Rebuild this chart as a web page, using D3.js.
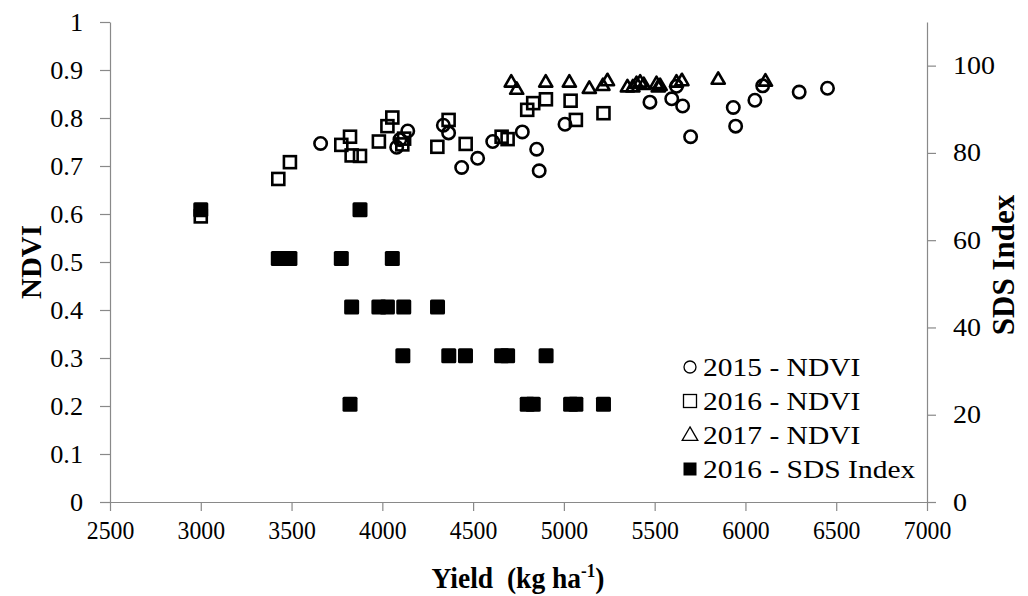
<!DOCTYPE html>
<html><head><meta charset="utf-8">
<script src="https://cdn.jsdelivr.net/npm/d3@7"></script>
<style>body{margin:0;background:#fff} text{font-family:"Liberation Serif","Times New Roman",serif;fill:#000;white-space:pre}</style>
</head><body><svg id="c" width="1028" height="596"></svg>
<script>
// ---- data ----
const yield2015 = [3660,4079,4097,4140,4336,4365,4437,4525,4608,4771,4850,4864,5006,5474,5594,5654,5698,5933,5946,6052,6095,6296,6452,5620];
const ndvi2015  = [0.747,0.739,0.755,0.773,0.785,0.769,0.697,0.716,0.751,0.771,0.735,0.690,0.787,0.833,0.840,0.825,0.761,0.822,0.783,0.837,0.867,0.854,0.862,0.866];
const yield2016 = [3000,3427,3491,3774,3822,3831,3877,3981,4028,4055,4110,4120,4303,4365,4459,4657,4690,4798,4831,4901,5037,5066,5218];
const ndvi2016  = [0.595,0.673,0.708,0.744,0.761,0.722,0.721,0.751,0.783,0.801,0.745,0.757,0.740,0.796,0.746,0.761,0.756,0.817,0.831,0.839,0.836,0.796,0.810];
const yield2017 = [4710,4740,4900,5030,5140,5215,5240,5350,5380,5400,5420,5440,5510,5520,5530,5620,5650,5850,6110];
const ndvi2017  = [0.875,0.860,0.875,0.875,0.862,0.868,0.878,0.865,0.865,0.872,0.875,0.870,0.872,0.865,0.868,0.875,0.878,0.881,0.877];
const yieldSDS  = [3000,3427,3491,3774,3822,3831,3877,3981,4028,4055,4113,4118,4304,4366,4458,4657,4690,4798,4831,4902,5037,5066,5218];
const sds2016   = [67.0,55.8,55.8,55.8,22.4,44.7,67.0,44.7,44.7,55.8,33.5,44.7,44.7,33.5,33.5,33.5,33.5,22.4,22.4,33.5,22.4,22.4,22.4];
const xTicks = [2500,3000,3500,4000,4500,5000,5500,6000,6500,7000];
const yLeftTicks = [0,0.1,0.2,0.3,0.4,0.5,0.6,0.7,0.8,0.9,1];
const yRightTicks = [0,20,40,60,80,100];
const legendLabels = ["2015 - NDVI","2016 - NDVI","2017 - NDVI","2016 - SDS Index"];

// ---- chart ----
const svg = d3.select("#c");
const x = d3.scaleLinear().domain([2500,7000]).range([110,927]);
const yL = d3.scaleLinear().domain([0,1]).range([502,22]);
const yR = d3.scaleLinear().domain([0,110]).range([502,22]);
const axisColor = "#898989";

function stretch(sel,f){
  sel.each(function(){ const w=this.getComputedTextLength();
    d3.select(this).attr("textLength",w*f).attr("lengthAdjust","spacingAndGlyphs"); });
}
function styleAxis(g,fs){
  g.selectAll("path.domain").attr("stroke",axisColor).attr("stroke-width",1.2);
  g.selectAll(".tick line").attr("stroke",axisColor).attr("stroke-width",1.2);
  g.selectAll(".tick text").attr("font-size",fs).attr("font-family","Liberation Serif").attr("fill","#000");
}
const gx = svg.append("g").attr("transform","translate(0,502)")
  .call(d3.axisBottom(x).tickValues(xTicks).tickSizeInner(9).tickSizeOuter(0).tickPadding(10).tickFormat(d=>String(d)));
styleAxis(gx,25);
stretch(gx.selectAll(".tick text"),0.95);
const gl = svg.append("g").attr("transform","translate(110,0)")
  .call(d3.axisLeft(yL).tickValues(yLeftTicks).tickSizeInner(10).tickSizeOuter(0).tickPadding(17)
    .tickFormat(d=> (d===0||d===1)? String(d) : d.toFixed(1)));
styleAxis(gl,25);
stretch(gl.selectAll(".tick text"),1.05);
const gr = svg.append("g").attr("transform","translate(927,0)")
  .call(d3.axisRight(yR).tickValues(yRightTicks).tickSizeInner(9).tickSizeOuter(0).tickPadding(17).tickFormat(d=>String(d)));
styleAxis(gr,25);
stretch(gr.selectAll(".tick text"),1.12);

// axis titles
svg.append("text").attr("transform","translate(34,262) rotate(-90)").attr("text-anchor","middle")
  .attr("dominant-baseline","middle").attr("font-weight","bold").attr("font-size",29).text("NDVI");
svg.append("text").attr("transform","translate(1007,265) rotate(-90)").attr("text-anchor","middle")
  .attr("dominant-baseline","middle").attr("font-weight","bold").attr("font-size",31).text("SDS Index");
const xt = svg.append("text").attr("transform","translate(518,588) scale(0.95,1)").attr("text-anchor","middle")
  .attr("font-weight","bold").attr("font-size",29);
xt.append("tspan").text("Yield  (kg ha");
xt.append("tspan").attr("dy",-11).attr("font-size",18).text("-1");
xt.append("tspan").attr("dy",11).text(")");

// marker helpers
const tri = (s)=>`M0,${-s*0.62}L${s*0.6},${s*0.42}L${-s*0.6},${s*0.42}Z`;
const sw = 2.6;

const g = svg.append("g");
// 2015 circles
g.selectAll("circle.s15").data(yield2015.map((v,i)=>[v,ndvi2015[i]])).join("circle")
  .attr("cx",d=>x(d[0])).attr("cy",d=>yL(d[1])).attr("r",6.2)
  .attr("fill","none").attr("stroke","#000").attr("stroke-width",sw);
// 2016 squares
g.selectAll("rect.s16").data(yield2016.map((v,i)=>[v,ndvi2016[i]])).join("rect")
  .attr("x",d=>x(d[0])-6).attr("y",d=>yL(d[1])-6).attr("width",12).attr("height",12)
  .attr("fill","none").attr("stroke","#000").attr("stroke-width",sw);
// 2017 triangles
g.selectAll("path.s17").data(yield2017.map((v,i)=>[v,ndvi2017[i]])).join("path")
  .attr("transform",d=>`translate(${x(d[0])},${yL(d[1])})`).attr("d",tri(11))
  .attr("fill","none").attr("stroke","#000").attr("stroke-width",sw).attr("stroke-linejoin","round");
// SDS filled squares
g.selectAll("rect.sds").data(yieldSDS.map((v,i)=>[v,sds2016[i]])).join("rect")
  .attr("x",d=>x(d[0])-7.5).attr("y",d=>yR(d[1])-7.5).attr("width",15).attr("height",15).attr("rx",1.5)
  .attr("fill","#000");

// legend
const lg = svg.append("g");
const ly = [367,401,435,469];
legendLabels.forEach((t,i)=>{
  const cx=690, cy=ly[i];
  if(i===0) lg.append("circle").attr("cx",cx).attr("cy",cy).attr("r",6).attr("fill","none").attr("stroke","#000").attr("stroke-width",1.3);
  if(i===1) lg.append("rect").attr("x",cx-6.5).attr("y",cy-6.5).attr("width",13).attr("height",13).attr("fill","none").attr("stroke","#000").attr("stroke-width",1.3);
  if(i===2) lg.append("path").attr("transform",`translate(${cx},${cy})`).attr("d",tri(13)).attr("fill","none").attr("stroke","#000").attr("stroke-width",1.3);
  if(i===3) lg.append("rect").attr("x",cx-6.5).attr("y",cy-6.5).attr("width",13).attr("height",13).attr("fill","#000");
  const tx = lg.append("text").attr("x",703).attr("y",cy).attr("dy","0.35em").attr("font-size",25).text(t);
  stretch(tx,1.18);
});
</script></body></html>
